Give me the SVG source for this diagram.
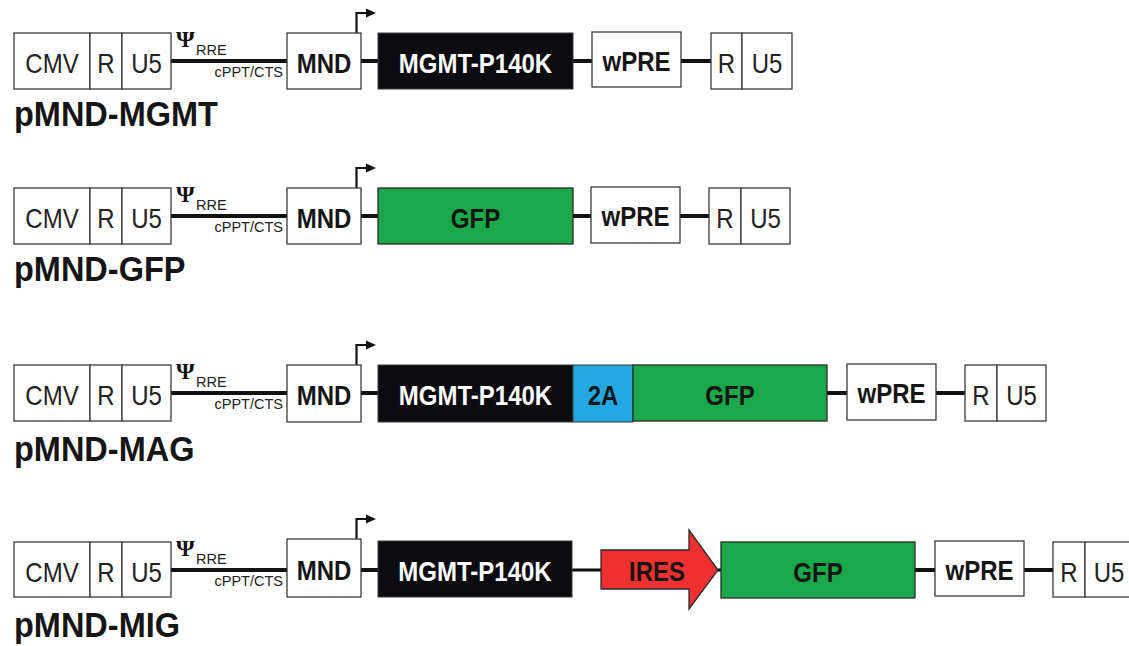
<svg xmlns="http://www.w3.org/2000/svg" width="1129" height="646" viewBox="0 0 1129 646">
<defs>
<style>
.box{fill:#fff;stroke:#3a3a3a;stroke-width:1.3}
.blk{fill:#0c0c10;stroke:#3a3a3a;stroke-width:1}
.grn{fill:#1aa84b;stroke:#2a2a2a;stroke-width:1.3}
.blu{fill:#23a9e1;stroke:#3a3a3a;stroke-width:1}
.red{fill:#ee3130;stroke:#2a2a2a;stroke-width:1.3}
.bb{stroke:#111;stroke-width:4;fill:none}
.thin{stroke:#111;stroke-width:3;fill:none}
.prom{stroke:#111;stroke-width:2.2;fill:none}
.ah{fill:#111}
.t,.tb,.tw{font-family:"Liberation Sans",Arial,sans-serif;font-size:24px;text-anchor:middle;transform-box:fill-box;transform-origin:center;transform:scaleY(1.15)}
.t{fill:#222}
.tb{font-weight:bold;fill:#151515}
.tw{font-weight:bold;fill:#fff}
.lab{font-family:"Liberation Sans",Arial,sans-serif;font-size:32.5px;font-weight:bold;fill:#151515;transform-box:fill-box;transform-origin:center;transform:scaleY(1.08)}
.sm{font-family:"Liberation Sans",Arial,sans-serif;font-size:14.5px;fill:#222}
.psi{font-family:"Liberation Serif","Times New Roman",serif;font-size:24px;font-weight:bold;fill:#111}
</style>
</defs>

<g id="connectors">
<!-- row 1 -->
<path class="bb" d="M171,61H287 M361,61H378 M573,61H592 M681,61H711"/>
<!-- row 2 -->
<path class="bb" d="M171,216H287 M361,216H378 M573,216H591 M680,216H709"/>
<!-- row 3 -->
<path class="bb" d="M171,393H287 M361,393H378 M827,393H847 M936,393H965"/>
<!-- row 4 -->
<path class="bb" d="M171,570H287 M361,570H378 M915,570H935 M1024,570H1053"/>
<path class="thin" d="M572,570H601 M716,570H721"/>
<!-- promoter arrows -->
<path class="prom" d="M356.5,33V13H367"/>
<polygon class="ah" points="366,8.5 376,13 366,17.5"/>
<path class="prom" d="M356.5,188V168H367"/>
<polygon class="ah" points="366,163.5 376,168 366,172.5"/>
<path class="prom" d="M356.5,365V345H367"/>
<polygon class="ah" points="366,340.5 376,345 366,349.5"/>
<path class="prom" d="M356.5,539V519H367"/>
<polygon class="ah" points="366,514.5 376,519 366,523.5"/>
</g>

<!-- ROW 1: pMND-MGMT -->
<g id="r1-ltr5">
<rect class="box" x="14" y="33" width="76" height="56"/>
<rect class="box" x="90" y="33" width="32" height="56"/>
<rect class="box" x="122" y="33" width="49" height="56"/>
<text class="t" x="52" y="72">CMV</text>
<text class="t" x="106" y="72">R</text>
<text class="t" x="146.5" y="72">U5</text>
</g>
<g id="r1-psi">
<text class="psi" x="176" y="47">Ψ</text>
<text class="sm" x="196" y="55">RRE</text>
<text class="sm" x="283" y="77" text-anchor="end">cPPT/CTS</text>
</g>
<g id="r1-mnd"><rect class="box" x="287" y="33" width="74" height="56"/><text class="tb" x="324" y="72">MND</text></g>
<g id="r1-mgmt"><rect class="blk" x="378" y="33" width="195" height="56"/><text class="tw" x="475.5" y="72">MGMT-P140K</text></g>
<g id="r1-wpre"><rect class="box" x="592" y="32" width="89" height="55"/><text class="tb" x="636.5" y="70">wPRE</text></g>
<g id="r1-ltr3">
<rect class="box" x="711" y="33" width="31" height="56"/>
<rect class="box" x="742" y="33" width="50" height="56"/>
<text class="t" x="726.5" y="72">R</text>
<text class="t" x="767" y="72">U5</text>
</g>
<text id="r1-label" class="lab" x="14" y="125">pMND-MGMT</text>

<!-- ROW 2: pMND-GFP -->
<g id="r2-ltr5">
<rect class="box" x="14" y="188" width="76" height="56"/>
<rect class="box" x="90" y="188" width="32" height="56"/>
<rect class="box" x="122" y="188" width="49" height="56"/>
<text class="t" x="52" y="227">CMV</text>
<text class="t" x="106" y="227">R</text>
<text class="t" x="146.5" y="227">U5</text>
</g>
<g id="r2-psi">
<text class="psi" x="176" y="202">Ψ</text>
<text class="sm" x="196" y="210">RRE</text>
<text class="sm" x="283" y="232" text-anchor="end">cPPT/CTS</text>
</g>
<g id="r2-mnd"><rect class="box" x="287" y="188" width="74" height="56"/><text class="tb" x="324" y="227">MND</text></g>
<g id="r2-gfp"><rect class="grn" x="378" y="188" width="195" height="56"/><text class="tb" x="475.5" y="227">GFP</text></g>
<g id="r2-wpre"><rect class="box" x="591" y="187" width="89" height="56"/><text class="tb" x="635.5" y="225">wPRE</text></g>
<g id="r2-ltr3">
<rect class="box" x="709" y="188" width="32" height="56"/>
<rect class="box" x="741" y="188" width="49" height="56"/>
<text class="t" x="725" y="227">R</text>
<text class="t" x="765.5" y="227">U5</text>
</g>
<text id="r2-label" class="lab" x="14" y="280">pMND-GFP</text>

<!-- ROW 3: pMND-MAG -->
<g id="r3-ltr5">
<rect class="box" x="14" y="365" width="76" height="56"/>
<rect class="box" x="90" y="365" width="32" height="56"/>
<rect class="box" x="122" y="365" width="49" height="56"/>
<text class="t" x="52" y="404">CMV</text>
<text class="t" x="106" y="404">R</text>
<text class="t" x="146.5" y="404">U5</text>
</g>
<g id="r3-psi">
<text class="psi" x="176" y="379">Ψ</text>
<text class="sm" x="196" y="387">RRE</text>
<text class="sm" x="283" y="409" text-anchor="end">cPPT/CTS</text>
</g>
<g id="r3-mnd"><rect class="box" x="287" y="365" width="74" height="57"/><text class="tb" x="324" y="404">MND</text></g>
<g id="r3-mgmt"><rect class="blk" x="378" y="365" width="195" height="57"/><text class="tw" x="475.5" y="404">MGMT-P140K</text></g>
<g id="r3-2a"><rect class="blu" x="573" y="365" width="60" height="57"/><text class="tb" x="603" y="404">2A</text></g>
<g id="r3-gfp"><rect class="grn" x="633" y="365" width="194" height="56"/><text class="tb" x="730" y="404">GFP</text></g>
<g id="r3-wpre"><rect class="box" x="847" y="364" width="89" height="56"/><text class="tb" x="891.5" y="402">wPRE</text></g>
<g id="r3-ltr3">
<rect class="box" x="965" y="365" width="32" height="56"/>
<rect class="box" x="997" y="365" width="49" height="56"/>
<text class="t" x="981" y="404">R</text>
<text class="t" x="1021.5" y="404">U5</text>
</g>
<text id="r3-label" class="lab" x="14" y="460">pMND-MAG</text>

<!-- ROW 4: pMND-MIG -->
<g id="r4-ltr5">
<rect class="box" x="14" y="542" width="76" height="55"/>
<rect class="box" x="90" y="542" width="32" height="55"/>
<rect class="box" x="122" y="542" width="49" height="55"/>
<text class="t" x="52" y="581">CMV</text>
<text class="t" x="106" y="581">R</text>
<text class="t" x="146.5" y="581">U5</text>
</g>
<g id="r4-psi">
<text class="psi" x="176" y="556">Ψ</text>
<text class="sm" x="196" y="564">RRE</text>
<text class="sm" x="283" y="586" text-anchor="end">cPPT/CTS</text>
</g>
<g id="r4-mnd"><rect class="box" x="287" y="539" width="74" height="58"/><text class="tb" x="324" y="579">MND</text></g>
<g id="r4-mgmt"><rect class="blk" x="378" y="541" width="194" height="56"/><text class="tw" x="475" y="580">MGMT-P140K</text></g>
<g id="r4-ires"><polygon class="red" points="601,550 689,550 689,530 718,570 689,609 689,589 601,589"/><text class="tb" x="657" y="580">IRES</text></g>
<g id="r4-gfp"><rect class="grn" x="721" y="542" width="194" height="56"/><text class="tb" x="818" y="581">GFP</text></g>
<g id="r4-wpre"><rect class="box" x="935" y="541" width="89" height="55"/><text class="tb" x="979.5" y="579">wPRE</text></g>
<g id="r4-ltr3">
<rect class="box" x="1053" y="542" width="32" height="55"/>
<rect class="box" x="1085" y="542" width="50" height="55"/>
<text class="t" x="1069" y="581">R</text>
<text class="t" x="1109" y="581">U5</text>
</g>
<text id="r4-label" class="lab" x="14" y="636">pMND-MIG</text>
</svg>
